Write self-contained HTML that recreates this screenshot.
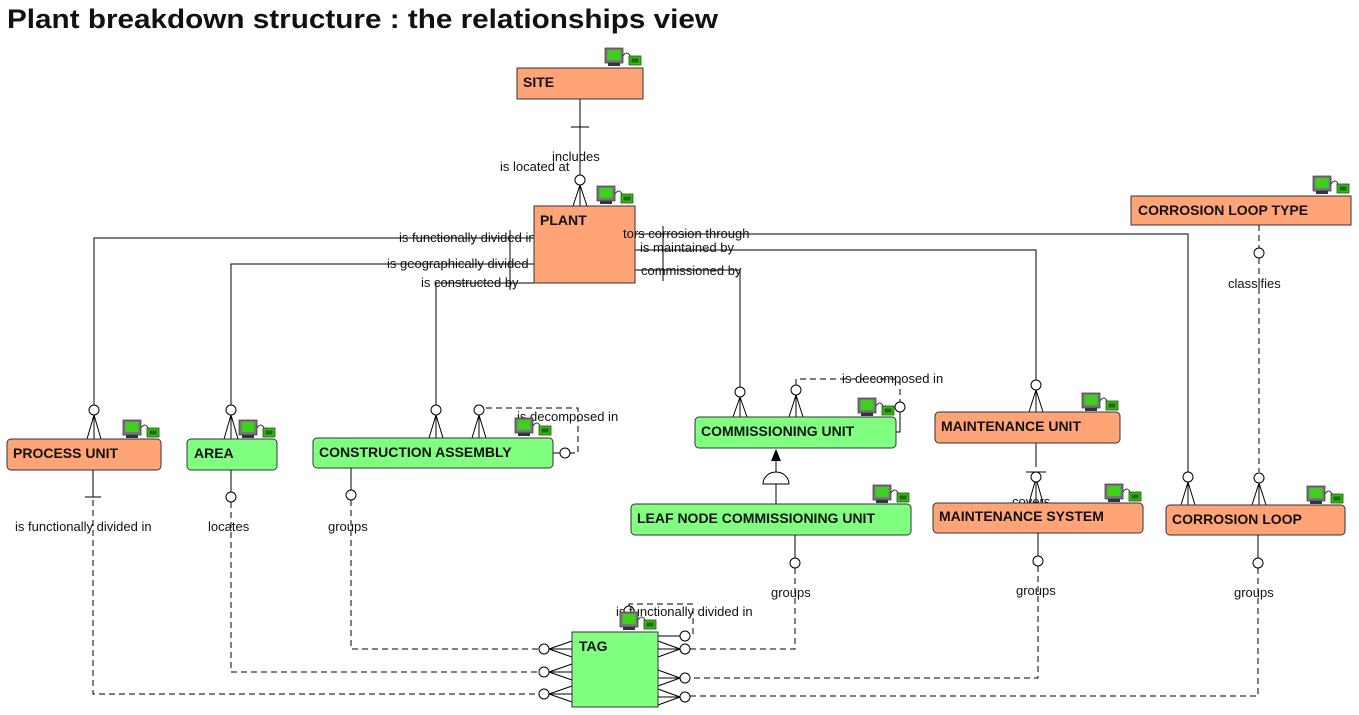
<!DOCTYPE html>
<html><head><meta charset="utf-8"><style>
html,body{margin:0;padding:0;background:#fff;}
svg{display:block;}
text{font-family:"Liberation Sans",Arial,sans-serif;fill:#111;}
.l{font-size:13px;}
.b{font-size:14px;font-weight:bold;}
.s{stroke:#000;stroke-width:1;fill:none;}
.d{stroke:#000;stroke-width:1;fill:none;stroke-dasharray:6,4;}
.c{stroke:#000;stroke-width:1;fill:#fff;}
.o{fill:#FFA477;stroke:#333;stroke-width:1;}
.g{fill:#80FF80;stroke:#333;stroke-width:1;}
</style></head><body>
<svg width="1359" height="715" viewBox="0 0 1359 715" xmlns="http://www.w3.org/2000/svg">
<defs>
<g id="ic">
<rect x="0" y="0" width="18" height="15" fill="#777" stroke="#333" stroke-width="0.7"/>
<rect x="2.5" y="2" width="13" height="10" fill="#3fcf1f"/>
<rect x="3" y="15" width="12" height="3" fill="#334"/>
<path d="M18 8 Q22 2 25 8" stroke="#333" fill="none"/>
<rect x="24" y="8" width="12" height="9" fill="#39b51a" stroke="#1d5a0a" stroke-width="0.8"/>
<rect x="26.5" y="10.5" width="7" height="4" fill="#1d6a0a"/>
</g>
</defs>
<text x="7" y="28" style="font-size:27px;font-weight:bold;" textLength="711" lengthAdjust="spacingAndGlyphs">Plant breakdown structure : the relationships view</text>

<!-- SITE-PLANT -->
<path class="s" d="M580 99V175M571 127H589M580 185L573 206M580 185V206M580 185L587 206"/>
<circle class="c" cx="580" cy="180" r="5"/>
<text class="l" x="552" y="161">includes</text>
<text class="l" x="500" y="171">is located at</text>

<!-- PLANT left lines -->
<path class="s" d="M534 238H94V405M94 415L87 439M94 415V439M94 415L101 439"/>
<circle class="c" cx="94" cy="410" r="5"/>
<path class="s" d="M534 264H231V405M231 415L224 439M231 415V439M231 415L238 439"/>
<circle class="c" cx="231" cy="410" r="5"/>
<path class="s" d="M534 283H436V405M436 415L429 438M436 415V438M436 415L443 438"/>
<circle class="c" cx="436" cy="410" r="5"/>
<path class="s" d="M510 230V290"/>
<text class="l" x="399" y="242">is functionally divided in</text>
<text class="l" x="387" y="268">is geographically divided</text>
<text class="l" x="421" y="287">is constructed by</text>

<!-- PLANT right lines -->
<path class="s" d="M635 234H1188V472M1188 482L1181 505M1188 482V505M1188 482L1195 505"/>
<circle class="c" cx="1188" cy="477" r="5"/>
<path class="s" d="M635 250H1036V380M1036 390L1029 412M1036 390V412M1036 390L1043 412"/>
<circle class="c" cx="1036" cy="385" r="5"/>
<path class="s" d="M635 270H740V387M740 397L733 417M740 397V417M740 397L747 417"/>
<circle class="c" cx="740" cy="392" r="5"/>
<path class="s" d="M663 226V281"/>

<rect class="o" x="517" y="68" width="126" height="31"/>
<text class="b" x="523" y="87">SITE</text>
<use href="#ic" x="605" y="48"/>
<rect class="o" x="534" y="206" width="101" height="77"/>
<text class="b" x="540" y="225">PLANT</text>
<use href="#ic" x="597" y="186"/>
<text class="l" x="623" y="238">tors corrosion through</text>
<text class="l" x="640" y="252">is maintained by</text>
<text class="l" x="641" y="275">commissioned by</text>

<!-- CORROSION LOOP TYPE -->
<rect class="o" x="1131" y="196" width="220" height="29"/>
<text class="b" x="1138" y="215">CORROSION LOOP TYPE</text>
<use href="#ic" x="1313" y="176"/>
<path class="d" d="M1259 225V248M1259 258V472"/>
<circle class="c" cx="1259" cy="253" r="5"/>
<text class="l" x="1228" y="288">classifies</text>
<path class="s" d="M1259 483L1252 505M1259 483V505M1259 483L1266 505"/>
<circle class="c" cx="1259" cy="478" r="5"/>

<!-- Construction self -->
<path class="d" d="M479 405V408H578V453H570"/>
<path class="s" d="M479 415L472 438M479 415V438M479 415L486 438M560 453H553"/>
<circle class="c" cx="479" cy="410" r="5"/>
<circle class="c" cx="565" cy="453" r="5"/>
<text class="l" x="517" y="421">is decomposed in</text>

<!-- Commissioning self -->
<path class="d" d="M796 385V379H900V402"/>
<path class="s" d="M796 395L789 417M796 395V417M796 395L803 417M900 412V432H896"/>
<circle class="c" cx="796" cy="390" r="5"/>
<circle class="c" cx="900" cy="407" r="5"/>
<text class="l" x="842" y="383">is decomposed in</text>

<!-- Inheritance -->
<path class="s" d="M776 504V484M776 472V460"/>
<path d="M763 484A13 12 0 0 1 789 484Z" fill="#fff" stroke="#000"/>
<path d="M771 461L776 449L781 461Z" fill="#000"/>

<!-- maint unit - system -->
<path class="s" d="M1036 443V467M1026 472H1046M1036 478L1029 503M1036 478V503M1036 478L1043 503"/>
<circle class="c" cx="1036" cy="477" r="5"/>
<text class="l" x="1012" y="506">covers</text>

<!-- boxes -->
<rect class="o" x="7" y="439" width="154" height="31" rx="4"/>
<text class="b" x="13" y="458">PROCESS UNIT</text>
<use href="#ic" x="123" y="420"/>
<rect class="g" x="187" y="439" width="90" height="31" rx="4"/>
<text class="b" x="194" y="458">AREA</text>
<use href="#ic" x="239" y="420"/>
<rect class="g" x="313" y="438" width="240" height="30" rx="4"/>
<text class="b" x="319" y="457">CONSTRUCTION ASSEMBLY</text>
<use href="#ic" x="515" y="418"/>
<rect class="g" x="695" y="417" width="201" height="31" rx="4"/>
<text class="b" x="701" y="436">COMMISSIONING UNIT</text>
<use href="#ic" x="858" y="398"/>
<rect class="o" x="935" y="412" width="185" height="31" rx="4"/>
<text class="b" x="941" y="431">MAINTENANCE UNIT</text>
<use href="#ic" x="1082" y="393"/>
<rect class="g" x="631" y="504" width="280" height="31" rx="4"/>
<text class="b" x="637" y="523">LEAF NODE COMMISSIONING UNIT</text>
<use href="#ic" x="873" y="485"/>
<rect class="o" x="933" y="503" width="210" height="30" rx="4"/>
<text class="b" x="939" y="521">MAINTENANCE SYSTEM</text>
<use href="#ic" x="1105" y="484"/>
<rect class="o" x="1166" y="505" width="179" height="30" rx="4"/>
<text class="b" x="1172" y="524">CORROSION LOOP</text>
<use href="#ic" x="1307" y="486"/>

<!-- bottom links to TAG -->
<path class="s" d="M93 470V497M85 497H101"/>
<path class="d" d="M93 500V694H539"/>
<text class="l" x="15" y="531">is functionally divided in</text>
<path class="s" d="M231 470V492"/>
<circle class="c" cx="231" cy="497" r="5"/>
<path class="d" d="M231 502V672H539"/>
<text class="l" x="208" y="531">locates</text>
<path class="s" d="M351 468V490"/>
<circle class="c" cx="351" cy="495" r="5"/>
<path class="d" d="M351 500V649H539"/>
<text class="l" x="328" y="531">groups</text>
<path class="s" d="M795 535V558"/>
<circle class="c" cx="795" cy="563" r="5"/>
<path class="d" d="M795 568V649H690"/>
<text class="l" x="771" y="597">groups</text>
<path class="s" d="M1038 533V556"/>
<circle class="c" cx="1038" cy="561" r="5"/>
<path class="d" d="M1038 566V678H690"/>
<text class="l" x="1016" y="595">groups</text>
<path class="s" d="M1258 535V558"/>
<circle class="c" cx="1258" cy="563" r="5"/>
<path class="d" d="M1258 568V696H690"/>
<text class="l" x="1234" y="597">groups</text>

<!-- TAG self -->
<path class="d" d="M629 606V604H693V636"/>
<circle class="c" cx="629" cy="611" r="5"/>
<text class="l" x="616" y="616">is functionally divided in</text>

<!-- crow's feet left of TAG -->
<path class="s" d="M549 649L572 641M549 649H572M549 649L572 657M549 672L572 664M549 672H572M549 672L572 680M549 694L572 686M549 694H572M549 694L572 702"/>
<circle class="c" cx="544" cy="649" r="5"/>
<circle class="c" cx="544" cy="672" r="5"/>
<circle class="c" cx="544" cy="694" r="5"/>
<!-- right of TAG -->
<path class="s" d="M658 636H680M680 649L658 641M680 649H658M680 649L658 657M680 678L658 670M680 678H658M680 678L658 686M680 697L658 689M680 697H658M680 697L658 705"/>
<circle class="c" cx="685" cy="636" r="5"/>
<circle class="c" cx="685" cy="649" r="5"/>
<circle class="c" cx="685" cy="678" r="5"/>
<circle class="c" cx="685" cy="697" r="5"/>

<rect class="g" x="572" y="632" width="86" height="75"/>
<text class="b" x="579" y="651">TAG</text>
<use href="#ic" x="620" y="612"/>
</svg>
</body></html>
